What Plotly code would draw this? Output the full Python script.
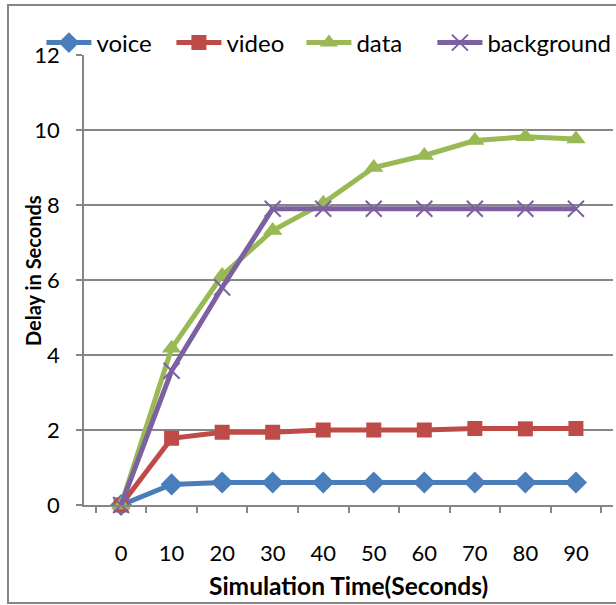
import plotly.graph_objects as go

categories = ["0", "10", "20", "30", "40", "50", "60", "70", "80", "90"]
voice = [0, 0.55, 0.6, 0.6, 0.6, 0.6, 0.6, 0.6, 0.6, 0.6]
video = [0, 1.78, 1.94, 1.94, 2.0, 2.0, 2.0, 2.04, 2.03, 2.04]
data = [0, 4.18, 6.12, 7.32, 8.05, 9.0, 9.32, 9.72, 9.82, 9.76]
background = [0, 3.58, 5.8, 7.9, 7.9, 7.9, 7.9, 7.9, 7.9, 7.9]
y_ticks = [0, 2, 4, 6, 8, 10, 12]

FONT = "Lato"
series = [
    ("voice", voice, "#4A7EBB", "diamond", 17, "legend"),
    ("video", video, "#BE4B48", "square", 15, "legend"),
    ("data", data, "#98B954", "triangle-up", 17, "legend"),
    ("background", background, "#7D60A0", "x-thin-open", 16, "legend2"),
]

fig = go.Figure()
for name, vals, color, sym, size, leg in series:
    fig.add_trace(go.Scatter(
        x=categories, y=vals, name=name, mode="lines+markers",
        line=dict(color=color, width=5),
        marker=dict(symbol=sym, size=size, color=color,
                    line=dict(color=color, width=2 if sym == "x-thin-open" else 0)),
        cliponaxis=False, legend=leg,
    ))

fig.update_layout(
    width=616, height=605,
    margin=dict(l=84, r=3, t=55, b=100, autoexpand=False),
    paper_bgcolor="white", plot_bgcolor="white",
    font=dict(family=FONT, size=22, color="black"),
    showlegend=True,
    legend=dict(orientation="h", x=-0.0805, y=1.0267, xanchor="left", yanchor="middle",
                font=dict(size=24), itemwidth=45, tracegroupgap=0,
                entrywidth=70, entrywidthmode="pixels",
                bgcolor="rgba(0,0,0,0)"),
    legend2=dict(orientation="h", x=0.6586, y=1.0267, xanchor="left", yanchor="middle",
                 font=dict(size=24), itemwidth=45, bgcolor="rgba(0,0,0,0)"),
    xaxis=dict(type="category", showgrid=False, showline=True, linecolor="#868686",
               linewidth=1.5, ticks="outside", tickson="boundaries", ticklen=6,
               tickcolor="#868686", tickwidth=1.5, ticklabelstandoff=28,
               tickfont=dict(size=22), zeroline=False),
    yaxis=dict(range=[0, 12], tickvals=y_ticks, showgrid=True, gridcolor="#868686",
               gridwidth=1.5, showline=True, linecolor="#868686", linewidth=1.5,
               ticks="outside", ticklen=6, tickcolor="#868686", tickwidth=1.5,
               ticklabelstandoff=12, zeroline=False, tickfont=dict(size=22)),
    annotations=[
        dict(text="<b>Simulation Time(Seconds)</b>", xref="paper", yref="paper",
             x=0.5, y=-0.178, xanchor="center", yanchor="middle", showarrow=False,
             font=dict(size=24.5)),
        dict(text="<b>Delay in Seconds</b>", xref="paper", yref="paper",
             x=-0.0965, y=0.522, xanchor="center", yanchor="middle", showarrow=False,
             textangle=-90, font=dict(size=20)),
    ],
    shapes=[dict(type="rect", xref="paper", yref="paper",
                 x0=-0.1437, x1=1.02, y0=-0.2178, y1=1.111,
                 line=dict(color="#868686", width=2), fillcolor="rgba(0,0,0,0)", layer="below")],
)

fig.write_html("out.html", config={"displayModeBar": False},
               post_script="document.body.style.margin='0';")
